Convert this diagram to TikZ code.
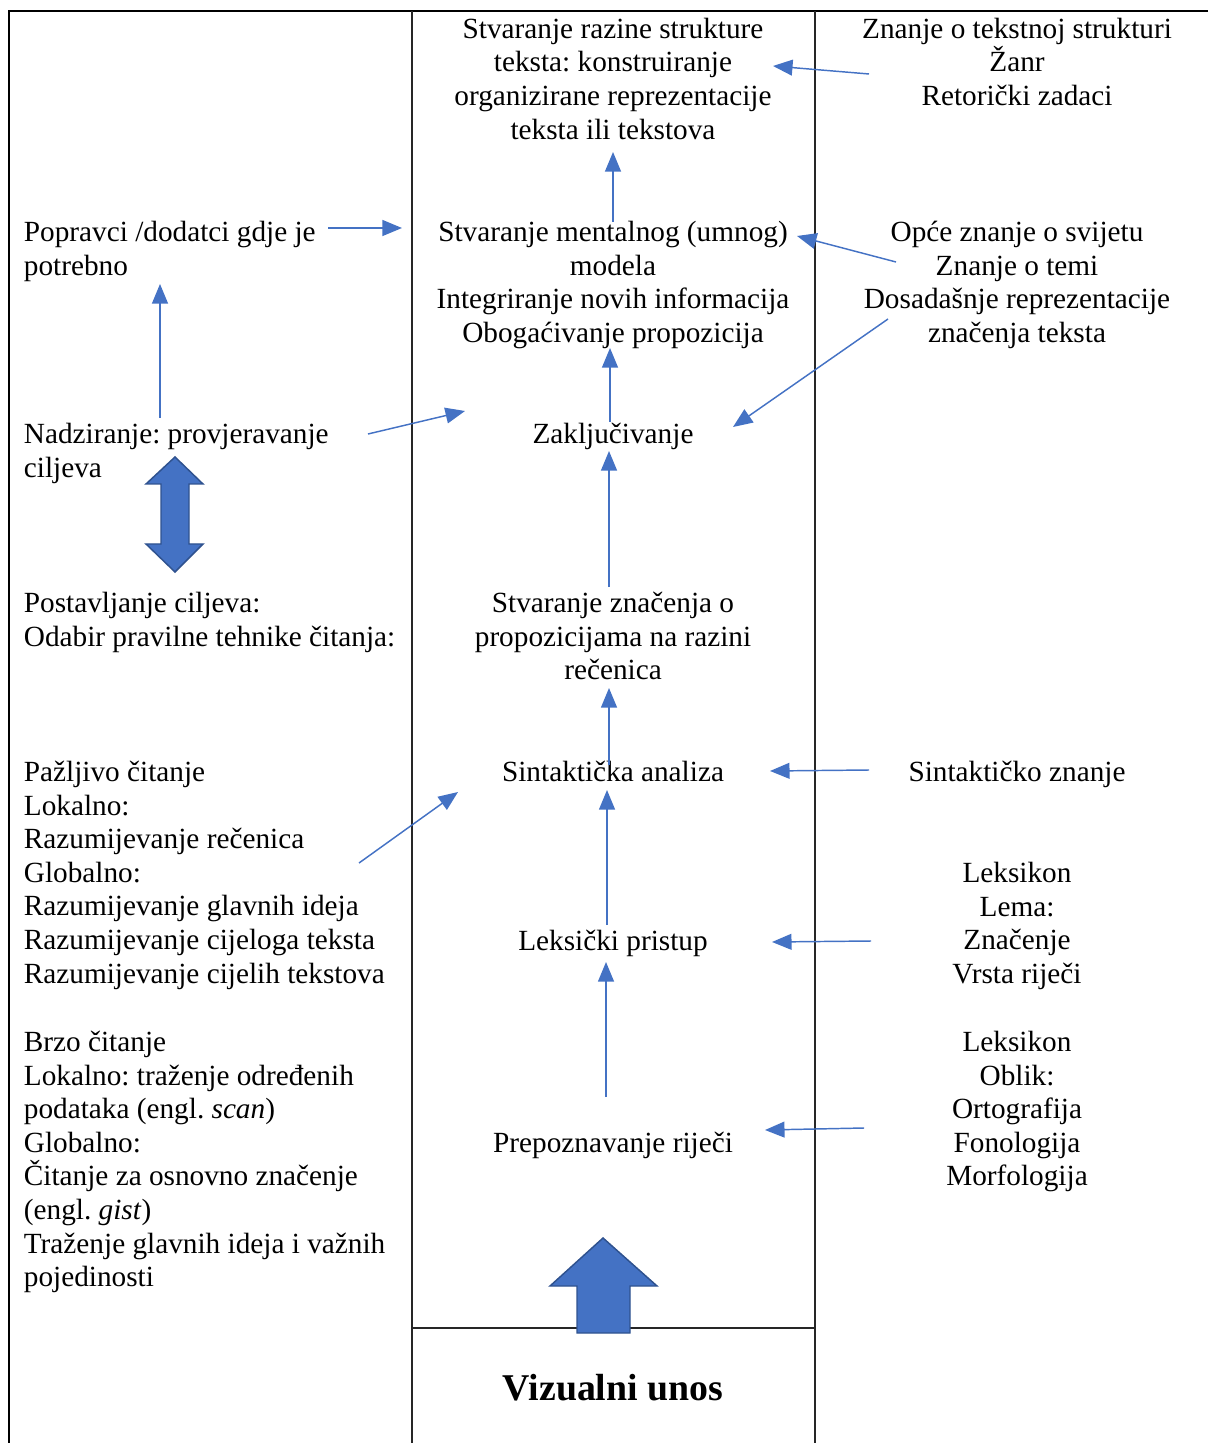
\documentclass[tikz,border=0pt]{standalone}
\usepackage{fontspec}
\setmainfont{Liberation Serif}
\usetikzlibrary{arrows.meta}
\definecolor{wordblue}{HTML}{4472C4}
\definecolor{wordedge}{HTML}{2F528F}
\frenchspacing
\newcommand\cellfont{\fontsize{12}{13.8}\selectfont\lineskiplimit -20pt\relax}
\tikzset{
  lbl/.style={inner sep=0pt, font=\cellfont},
  leftcol/.style={lbl, anchor=north west, align=left},
  midcol/.style={lbl, anchor=north, align=center},
  frame/.style={line width=0.8pt},
  rule/.style={line width=0.6pt, black!85},
  flow/.style={draw=wordblue, line width=0.6pt, -{Triangle[length=8pt,width=6.5pt]}},
  bigarrow/.style={fill=wordblue, draw=wordedge, line width=0.6pt}
}
\begin{document}
\begin{tikzpicture}[x=0.41pt, y=-0.41pt, line width=0.40mm]
  \useasboundingbox (0,0) rectangle (1208,1443);
  % table frame (three columns, no right border)
  \draw[frame] (1208,11) -- (9,11) -- (9,1443);
  \draw[rule] (412,11) -- (412,1443);
  \draw[rule] (815,11) -- (815,1443);
  \draw[rule] (412,1328) -- (815,1328);

  % left column
  \node[leftcol] (popravci) at (22.5,216.4) {\strut Popravci /dodatci gdje je\\potrebno};
  \node[leftcol] (nadzor) at (22.5,418.4) {\strut Nadziranje: provjeravanje\\ciljeva};
  \node[leftcol] (ciljevi) at (22.5,587.4) {\strut Postavljanje ciljeva:\\Odabir pravilne tehnike čitanja:};
  \node[leftcol] (pazljivo) at (22.5,756.4) {\strut Pažljivo čitanje\\Lokalno:\\Razumijevanje rečenica\\Globalno:\\Razumijevanje glavnih ideja\\Razumijevanje cijeloga teksta\\Razumijevanje cijelih tekstova};
  \node[leftcol] (brzo) at (22.5,1026.4) {\strut Brzo čitanje\\Lokalno: traženje određenih\\podataka (engl. \textit{scan})\\Globalno:\\Čitanje za osnovno značenje\\(engl. \textit{gist})\\Traženje glavnih ideja i važnih\\pojedinosti};

  % middle column (processing levels)
  \node[midcol] (struktura) at (613,13.4) {\strut Stvaranje razine strukture\\teksta: konstruiranje\\organizirane reprezentacije\\teksta ili tekstova};
  \node[midcol] (model) at (613,216.4) {\strut Stvaranje mentalnog (umnog)\\modela\\Integriranje novih informacija\\Obogaćivanje propozicija};
  \node[midcol] (zaklj) at (613,418.4) {\strut Zaključivanje};
  \node[midcol] (znacenje) at (613,587.4) {\strut Stvaranje značenja o\\propozicijama na razini\\rečenica};
  \node[midcol] (sintaksa) at (613,756.4) {\strut Sintaktička analiza};
  \node[midcol] (leksicki) at (613,925.4) {\strut Leksički pristup};
  \node[midcol] (prepoz) at (613,1127.4) {\strut Prepoznavanje riječi};
  \node[inner sep=0pt, font=\fontsize{15.5}{18}\selectfont\bfseries] (unos) at (613,1388) {Vizualni unos};

  % right column (knowledge sources)
  \node[midcol] (tekstznanje) at (1017,13.4) {\strut Znanje o tekstnoj strukturi\\Žanr\\Retorički zadaci};
  \node[midcol] (svijet) at (1017,216.4) {\strut Opće znanje o svijetu\\Znanje o temi\\Dosadašnje reprezentacije\\značenja teksta};
  \node[midcol] (sintznanje) at (1017,756.4) {\strut Sintaktičko znanje};
  \node[midcol] (lema) at (1017,857.4) {\strut Leksikon\\Lema:\\Značenje\\Vrsta riječi};
  \node[midcol] (oblik) at (1017,1026.4) {\strut Leksikon\\Oblik:\\Ortografija\\Fonologija\\Morfologija};

  % arrow ends
  \coordinate (tz-a) at (869,74);  \coordinate (tz-b) at (773,66);
  \coordinate (mo-a) at (613,222); \coordinate (mo-b) at (613,152);
  \coordinate (po-a) at (328,228); \coordinate (po-b) at (402,228);
  \coordinate (nu-a) at (160,418); \coordinate (nu-b) at (160,284);
  \coordinate (nz-a) at (368,434); \coordinate (nz-b) at (465,411);
  \coordinate (sv-a) at (896,262); \coordinate (sv-b) at (797,236);
  \coordinate (ds-a) at (888,319); \coordinate (ds-b) at (733,427);
  \coordinate (za-a) at (610,422); \coordinate (za-b) at (610,348);
  \coordinate (zn-a) at (609,587); \coordinate (zn-b) at (609,451);
  \coordinate (si-a) at (609,765); \coordinate (si-b) at (609,688);
  \coordinate (le-a) at (607,925); \coordinate (le-b) at (607,790);
  \coordinate (pr-a) at (606,1097); \coordinate (pr-b) at (606,962);
  \coordinate (sz-a) at (869,770); \coordinate (sz-b) at (770,771);
  \coordinate (lm-a) at (871,941); \coordinate (lm-b) at (772,942);
  \coordinate (ob-a) at (864,1128); \coordinate (ob-b) at (765,1130);
  \coordinate (pz-a) at (359,863); \coordinate (pz-b) at (458,792);

  \foreach \a in {tz,mo,po,nu,nz,sv,ds,za,zn,si,le,pr,sz,lm,ob,pz}
    \draw[flow] (\a-a) -- (\a-b);

  % block arrows
  \draw[bigarrow] (175,457) -- (203,484) -- (189,484) -- (189,544) -- (203,544)
    -- (175,572) -- (146,544) -- (161,544) -- (161,484) -- (146,484) -- cycle;
  \draw[bigarrow] (603,1238) -- (657,1286) -- (630,1286) -- (630,1333)
    -- (577,1333) -- (577,1286) -- (550,1286) -- cycle;
\end{tikzpicture}
\end{document}
